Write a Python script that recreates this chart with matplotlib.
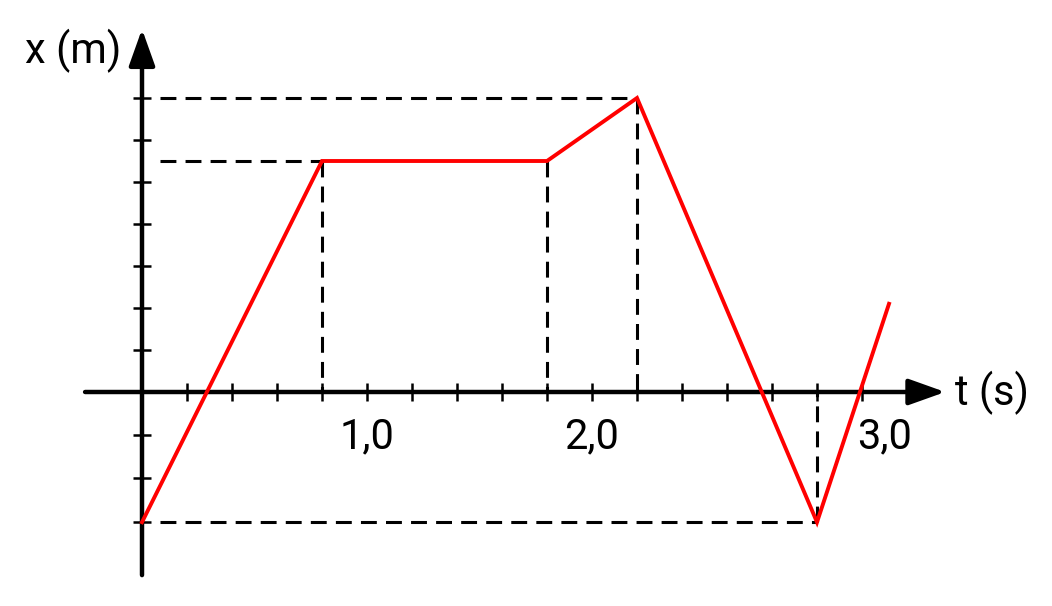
import matplotlib
matplotlib.use("Agg")
import matplotlib.pyplot as plt
import numpy as np

plt.rcParams['font.family'] = ['Roboto', 'DejaVu Sans']

# Data (position-time graph)
t_vals = [0.0, 0.8, 1.8, 2.2, 3.0, 3.32]
x_vals = [-3.1, 5.5, 5.5, 7.0, -3.1, 2.1]

x_ticks_t = [0.2, 0.4, 0.6, 0.8, 1.0, 1.2, 1.4, 1.6, 1.8, 2.0, 2.2, 2.4, 2.6, 2.8, 3.0, 3.2]
y_ticks_x = [-3.1, -2.05, -1.02, 1, 2, 3, 4, 5, 6, 7]
t_labels = ["1,0", "2,0", "3,0"]
t_label_pos = [1.0, 2.0, 3.3]

# guide lines: horizontal (level, t_end), vertical (t, level)
h_guides = [(7.0, 2.2), (5.5, 0.8), (-3.1, 3.0)]
v_guides = [(0.8, 5.5), (1.8, 5.5), (2.2, 7.0), (3.0, -3.1)]

fig = plt.figure(figsize=(10.52, 6.06), dpi=100)
ax = fig.add_axes([0, 0, 1, 1])
ax.set_xlim(-142 / 225, (1052 - 142) / 225)
ax.set_ylim(-214 / 42, 392 / 42)
ax.axis('off')

dash = (0, (5.2, 3.0))
for lvl, tend in h_guides:
    ax.plot([0.08, tend], [lvl, lvl], color='black', lw=2.2, linestyle=dash, zorder=2)
for tv, lvl in v_guides:
    ax.plot([tv, tv], [lvl, 0], color='black', lw=2.2, linestyle=dash, zorder=2)

# axes with arrows
arrow_style = '-|>,head_length=1.4,head_width=0.5'
ax.annotate('', xy=(3.57, 0), xytext=(-0.253, 0),
            arrowprops=dict(arrowstyle=arrow_style, color='black', lw=3.2,
                            mutation_scale=16, shrinkA=0, shrinkB=0), zorder=3)
ax.annotate('', xy=(0, 8.64), xytext=(0, -4.36),
            arrowprops=dict(arrowstyle=arrow_style, color='black', lw=3.2,
                            mutation_scale=16, shrinkA=0, shrinkB=0), zorder=3)

# tick marks
ax.plot(x_ticks_t, [0] * len(x_ticks_t), linestyle='none', marker='|',
        markersize=13, mew=1.8, color='black', zorder=3)
ax.plot([0] * len(y_ticks_x), y_ticks_x, linestyle='none', marker='_',
        markersize=13, mew=1.8, color='black', zorder=3)

# the curve
ax.plot(t_vals, x_vals, color='#ff0000', lw=2.8, zorder=4, solid_joinstyle='miter')

for lab, pos in zip(t_labels, t_label_pos):
    ax.text(pos, -1.33, lab, fontsize=30, ha='center', va='baseline', color='black')

ax.text(3.613, -0.31, 't (s)', fontsize=30, ha='left', va='baseline', color='black')
ax.text(-0.52, 7.83, 'x (m)', fontsize=30, ha='left', va='baseline', color='black')

fig.savefig('out.png', dpi=100, facecolor='white')
